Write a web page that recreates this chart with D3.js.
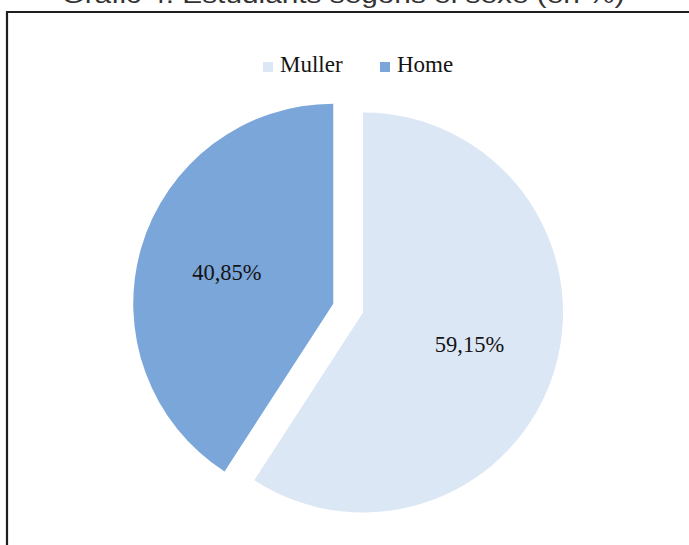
<!DOCTYPE html>
<html><head><meta charset="utf-8">
<script src="https://cdn.jsdelivr.net/npm/d3@7"></script>
<style>html,body{margin:0;padding:0;background:#fff;}</style>
</head><body>
<svg id="c" width="689" height="545"></svg>
<script>
const categories = ["Muller", "Home"];
const values = [59.15, 40.85];
const labels = ["59,15%", "40,85%"];
const colors = ["#dce7f6", "#7ba6d9"];
const title = "Gràfic 4. Estudiants segons el sexe (en %)";

const svg = d3.select("#c");
svg.append("text").attr("x", 343).attr("y", 3).attr("text-anchor", "middle")
  .attr("font-family", "Liberation Sans, Arial, sans-serif").attr("font-size", 24)
  .attr("fill", "#333").attr("textLength", 563).attr("lengthAdjust", "spacingAndGlyphs").text(title);

svg.append("path").attr("d", "M7,545 L7,12 L689,12").attr("fill", "none")
  .attr("stroke", "#1e1e1e").attr("stroke-width", 2.2);

const cx = 363, cy = 312.5, r = 200, explode = 31;
const pie = d3.pie().sort(null).value(d => d)(values);
const arc = d3.arc().innerRadius(0).outerRadius(r);
const g = svg.append("g").attr("transform", `translate(${cx},${cy})`);
const slices = g.selectAll("g.s").data(pie).join("g").attr("class", "s")
  .attr("transform", (d, i) => {
    if (i !== 1) return null;
    const a = (d.startAngle + d.endAngle) / 2;
    return `translate(${Math.sin(a) * explode},${-Math.cos(a) * explode})`;
  });
slices.append("path").attr("d", arc).attr("fill", (d, i) => colors[i]);
const labelArc = d3.arc().innerRadius(r * 0.555).outerRadius(r * 0.555);
slices.append("text").attr("transform", d => `translate(${labelArc.centroid(d)})`)
  .attr("text-anchor", "middle").attr("dy", "0.35em")
  .attr("font-family", "Liberation Serif, Times New Roman, serif").attr("font-size", 22.5)
  .attr("fill", "#141414").text((d, i) => labels[i]);

const leg = svg.append("g");
const legX = [263, 380];
categories.forEach((c, i) => {
  leg.append("rect").attr("x", legX[i]).attr("y", 62).attr("width", 10).attr("height", 10).attr("fill", colors[i]);
  leg.append("text").attr("x", legX[i] + 17).attr("y", 72)
    .attr("font-family", "Liberation Serif, Times New Roman, serif").attr("font-size", 23)
    .attr("fill", "#141414").text(c);
});
</script>
</body></html>
